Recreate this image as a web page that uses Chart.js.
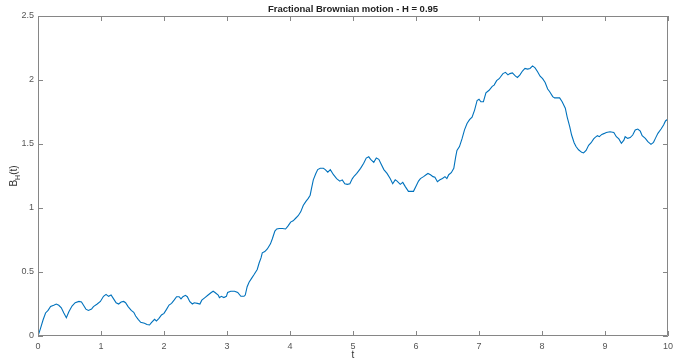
<!DOCTYPE html>
<html>
<head>
<meta charset="utf-8">
<script src="https://cdn.jsdelivr.net/npm/chart.js@4.4.1/dist/chart.umd.min.js"></script>
<style>
  html, body { margin: 0; padding: 0; background: #fff; }
  #wrap { width: 678px; height: 360px; }
</style>
</head>
<body>
<div id="wrap"><canvas id="fbm"></canvas></div>
<script>
// sample times and path values
const t = [
  0, 0.04, 0.08, 0.12, 0.16, 0.2, 0.25, 0.29, 0.33, 0.37, 0.41, 0.45, 0.49, 0.54, 0.59, 0.65, 0.69, 0.73, 0.76, 0.8,
  0.85, 0.88, 0.94, 0.99, 1.04, 1.08, 1.12, 1.16, 1.2, 1.24, 1.28, 1.32, 1.36, 1.39, 1.43, 1.48, 1.52, 1.55, 1.59, 1.63,
  1.69, 1.73, 1.77, 1.8, 1.85, 1.88, 1.92, 1.96, 2.0, 2.04, 2.08, 2.12, 2.16, 2.2, 2.24, 2.27, 2.3, 2.34, 2.37, 2.41,
  2.45, 2.48, 2.53, 2.57, 2.6, 2.65, 2.7, 2.75, 2.78, 2.81, 2.86, 2.88, 2.91, 2.95, 2.99, 3.01, 3.06, 3.12, 3.17, 3.22,
  3.27, 3.29, 3.32, 3.35, 3.39, 3.43, 3.48, 3.51, 3.54, 3.56, 3.6, 3.64, 3.69, 3.72, 3.76, 3.79, 3.83, 3.88, 3.93, 3.97,
  4.01, 4.05, 4.09, 4.13, 4.17, 4.21, 4.25, 4.29, 4.32, 4.34, 4.37, 4.41, 4.44, 4.48, 4.53, 4.56, 4.6, 4.64, 4.69, 4.74,
  4.79, 4.83, 4.87, 4.91, 4.95, 4.99, 5.02, 5.06, 5.12, 5.17, 5.21, 5.25, 5.28, 5.33, 5.37, 5.41, 5.44, 5.49, 5.54, 5.59,
  5.63, 5.67, 5.7, 5.75, 5.79, 5.83, 5.88, 5.92, 5.96, 6.0, 6.04, 6.07, 6.12, 6.16, 6.19, 6.23, 6.27, 6.3, 6.34, 6.38,
  6.42, 6.46, 6.49, 6.52, 6.56, 6.6, 6.63, 6.65, 6.69, 6.73, 6.77, 6.81, 6.85, 6.89, 6.93, 6.97, 7.0, 7.03, 7.07, 7.11,
  7.16, 7.21, 7.24, 7.28, 7.32, 7.38, 7.42, 7.46, 7.49, 7.53, 7.58, 7.61, 7.65, 7.69, 7.73, 7.77, 7.81, 7.85, 7.89, 7.93,
  7.97, 8.01, 8.05, 8.09, 8.12, 8.17, 8.2, 8.24, 8.28, 8.32, 8.37, 8.4, 8.44, 8.47, 8.51, 8.54, 8.58, 8.63, 8.66, 8.7,
  8.74, 8.78, 8.82, 8.84, 8.88, 8.91, 8.95, 8.99, 9.02, 9.08, 9.14, 9.18, 9.22, 9.26, 9.3, 9.32, 9.36, 9.4, 9.44, 9.48,
  9.52, 9.56, 9.59, 9.64, 9.68, 9.73, 9.77, 9.8, 9.84, 9.89, 9.93, 9.96, 10.0
];
const bH = [
  0, 0.06, 0.125, 0.18, 0.2, 0.23, 0.24, 0.25, 0.24, 0.22, 0.18, 0.143, 0.19, 0.234, 0.26, 0.27, 0.265, 0.234, 0.21, 0.2,
  0.21, 0.23, 0.25, 0.27, 0.31, 0.325, 0.31, 0.32, 0.29, 0.26, 0.25, 0.266, 0.27, 0.26, 0.23, 0.2, 0.185, 0.156, 0.13, 0.107,
  0.1, 0.09, 0.086, 0.104, 0.13, 0.117, 0.138, 0.164, 0.177, 0.208, 0.242, 0.255, 0.28, 0.307, 0.307, 0.29, 0.307, 0.318, 0.307, 0.268,
  0.25, 0.26, 0.255, 0.25, 0.28, 0.3, 0.32, 0.34, 0.35, 0.34, 0.32, 0.3, 0.31, 0.3, 0.31, 0.34, 0.35, 0.35, 0.34, 0.31,
  0.31, 0.32, 0.385, 0.42, 0.45, 0.48, 0.52, 0.57, 0.61, 0.65, 0.66, 0.68, 0.72, 0.76, 0.82, 0.836, 0.84, 0.84, 0.836, 0.86,
  0.89, 0.9, 0.92, 0.94, 0.97, 1.02, 1.05, 1.075, 1.1, 1.15, 1.22, 1.27, 1.3, 1.31, 1.31, 1.3, 1.28, 1.3, 1.26, 1.23,
  1.21, 1.22, 1.19, 1.185, 1.19, 1.23, 1.25, 1.27, 1.31, 1.35, 1.39, 1.4, 1.38, 1.357, 1.39, 1.38, 1.35, 1.3, 1.27, 1.23,
  1.19, 1.22, 1.21, 1.185, 1.2, 1.167, 1.13, 1.13, 1.13, 1.17, 1.21, 1.23, 1.245, 1.26, 1.27, 1.26, 1.245, 1.24, 1.205, 1.22,
  1.23, 1.245, 1.23, 1.26, 1.276, 1.31, 1.4, 1.45, 1.48, 1.54, 1.61, 1.66, 1.69, 1.71, 1.765, 1.84, 1.85, 1.83, 1.83, 1.9,
  1.92, 1.95, 1.96, 1.995, 2.01, 2.05, 2.06, 2.04, 2.05, 2.055, 2.03, 2.02, 2.04, 2.07, 2.09, 2.085, 2.09, 2.11, 2.095, 2.065,
  2.03, 2.01, 1.98, 1.93, 1.91, 1.87, 1.86, 1.86, 1.86, 1.83, 1.78, 1.71, 1.635, 1.57, 1.51, 1.48, 1.455, 1.435, 1.43, 1.45,
  1.49, 1.51, 1.54, 1.55, 1.565, 1.557, 1.575, 1.583, 1.59, 1.596, 1.59, 1.557, 1.54, 1.505, 1.53, 1.557, 1.544, 1.55, 1.57, 1.61,
  1.617, 1.6, 1.565, 1.544, 1.518, 1.497, 1.513, 1.544, 1.583, 1.617, 1.648, 1.68, 1.695
];
const xTicks = [0, 1, 2, 3, 4, 5, 6, 7, 8, 9, 10];
const yTicks = [0, 0.5, 1, 1.5, 2, 2.5];
const yTickLabels = ['0', '0.5', '1', '1.5', '2', '2.5'];

const titleText = 'Fractional Brownian motion - H = 0.95';
const axisColor = '#868686';
const labelColor = '#555555';
const fontFam = '"Liberation Sans", Arial, Helvetica, sans-serif';

// MATLAB-like box with inward ticks, title and B_H(t) label
const matlabAxes = {
  id: 'matlabAxes',
  afterDatasetsDraw(chart) {
    const { ctx, chartArea: a, scales: { x, y } } = chart;
    ctx.save();
    ctx.strokeStyle = axisColor;
    ctx.lineWidth = 1;
    ctx.beginPath();
    ctx.rect(Math.round(a.left) + 0.5, Math.round(a.top) + 0.5,
      Math.round(a.right - a.left) - 1, Math.round(a.bottom - a.top) - 1);
    const tl = 5;
    xTicks.forEach(v => {
      const px = Math.round(x.getPixelForValue(v)) + 0.5;
      ctx.moveTo(px, a.bottom); ctx.lineTo(px, a.bottom - tl);
      ctx.moveTo(px, a.top); ctx.lineTo(px, a.top + tl);
    });
    yTicks.forEach(v => {
      const py = Math.round(y.getPixelForValue(v)) + 0.5;
      ctx.moveTo(a.left, py); ctx.lineTo(a.left + tl, py);
      ctx.moveTo(a.right, py); ctx.lineTo(a.right - tl, py);
    });
    ctx.stroke();

    // title
    ctx.fillStyle = '#222222';
    ctx.font = 'bold 9.5px ' + fontFam;
    ctx.textAlign = 'center';
    ctx.textBaseline = 'middle';
    ctx.fillText(titleText, (a.left + a.right) / 2, 9.5);

    // y label with subscript
    ctx.translate(13, (a.top + a.bottom) / 2);
    ctx.rotate(-Math.PI / 2);
    ctx.fillStyle = '#333333';
    ctx.textAlign = 'left';
    ctx.textBaseline = 'alphabetic';
    const big = '10px ' + fontFam, small = '7px ' + fontFam;
    ctx.font = big; const wB = ctx.measureText('B').width; const wT = ctx.measureText('(t)').width;
    ctx.font = small; const wH = ctx.measureText('H').width;
    let cx = -(wB + wH + wT) / 2;
    ctx.font = big; ctx.fillText('B', cx, 3.5); cx += wB;
    ctx.font = small; ctx.fillText('H', cx, 6.5); cx += wH;
    ctx.font = big; ctx.fillText('(t)', cx, 3.5);
    ctx.restore();
  }
};

new Chart(document.getElementById('fbm'), {
  type: 'line',
  data: {
    datasets: [{
      data: t.map((v, i) => ({ x: v, y: bH[i] })),
      borderColor: '#0072BD',
      borderWidth: 1.1,
      pointRadius: 0,
      tension: 0,
      fill: false
    }]
  },
  options: {
    responsive: true,
    maintainAspectRatio: false,
    animation: false,
    events: [],
    layout: { padding: { top: 16, right: 6, left: 0, bottom: 0 } },
    plugins: { legend: { display: false }, tooltip: { enabled: false }, title: { display: false } },
    scales: {
      x: {
        type: 'linear', min: 0, max: 10,
        afterBuildTicks: s => { s.ticks = xTicks.map(v => ({ value: v })); },
        afterFit: s => { s.height = 24; },
        grid: { display: false, drawTicks: false },
        border: { display: false },
        ticks: { color: labelColor, font: { size: 9, family: fontFam }, padding: 5, maxRotation: 0 },
        title: { display: true, text: 't', color: '#333333', font: { size: 10, family: fontFam, lineHeight: 1 }, padding: 0 }
      },
      y: {
        type: 'linear', min: 0, max: 2.5,
        afterBuildTicks: s => { s.ticks = yTicks.map(v => ({ value: v })); },
        afterFit: s => { s.width = 38; },
        grid: { display: false, drawTicks: false },
        border: { display: false },
        ticks: {
          color: labelColor, font: { size: 9, family: fontFam }, padding: 4,
          callback: v => yTickLabels[yTicks.indexOf(v)]
        }
      }
    }
  },
  plugins: [matlabAxes]
});
</script>
</body>
</html>
